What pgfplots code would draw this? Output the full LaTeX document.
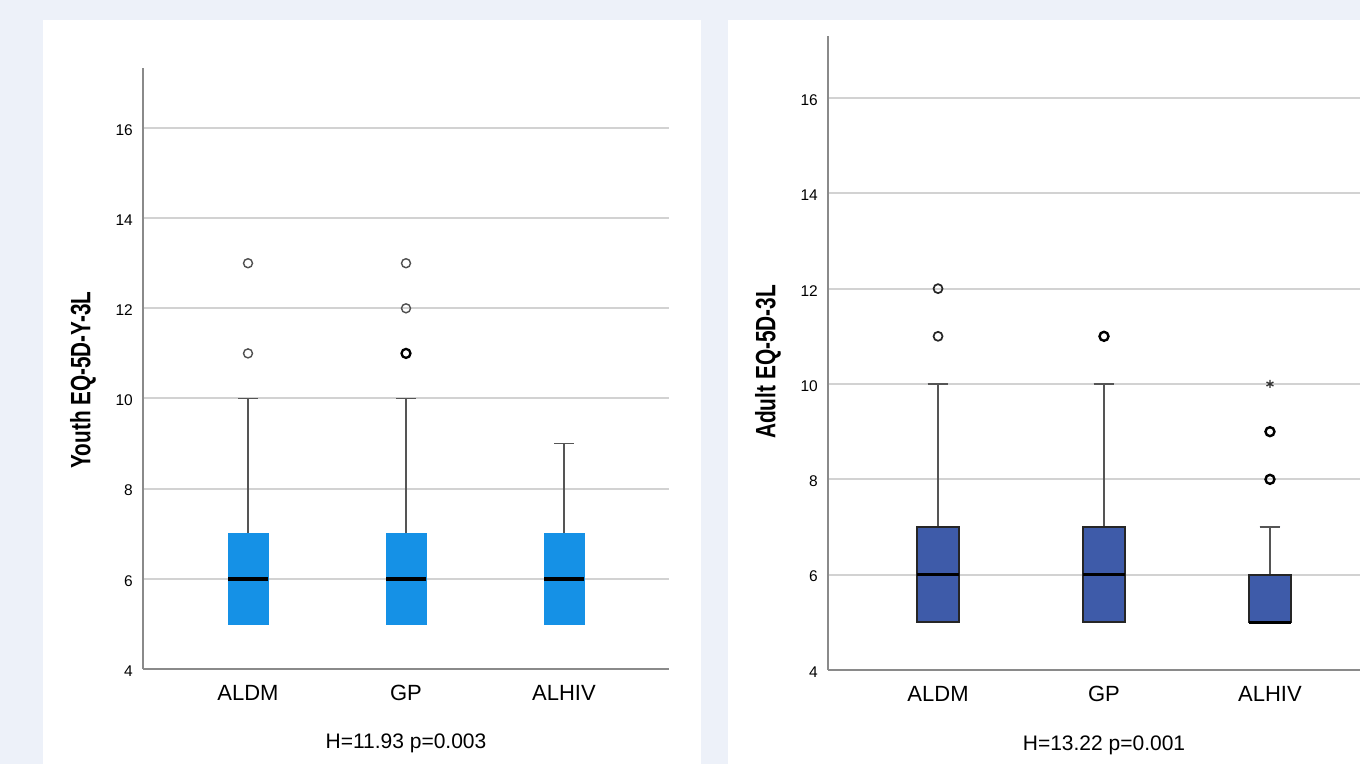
\documentclass[border=0pt]{standalone}
\usepackage{pgfplots}
\pgfplotsset{compat=1.18}
\usepgfplotslibrary{statistics}
\usepackage{fontspec}
\setmainfont{Liberation Sans}

\definecolor{bgc}{HTML}{EDF1F9}
\definecolor{boxA}{HTML}{1591E6}
\definecolor{boxB}{HTML}{3E5BA9}
\definecolor{gridc}{HTML}{D2D2D2}
\definecolor{axc}{HTML}{8A8A8A}
\definecolor{whc}{HTML}{555555}
\definecolor{outc}{HTML}{505050}

\pgfplotsset{
 spss/.style={
  scale only axis,
  axis lines=left,
  axis line style={-, draw=axc, line width=1.6pt},
  ymin=4,
  ytick={4,6,8,10,12,14,16},
  xtick={1,2,3},
  xticklabels={ALDM,GP,ALHIV},
  ymajorgrids,
  major grid style={draw=gridc, line width=2pt},
  major tick length=0pt,
  tick style={draw=none},
  /pgf/number format/assume math mode=true,
  yticklabel style={font=\fontsize{15.5}{18}\selectfont, anchor=east, inner sep=0pt, xshift=-10pt, yshift=-2pt},
  xticklabel style={font=\fontsize{22}{26}\selectfont, anchor=north, inner sep=0pt, yshift=-16pt},
  xlabel style={font=\fontsize{21}{25}\selectfont, at={(axis description cs:0.5,0)}, anchor=base, inner sep=0pt},
  ylabel style={font=\fontsize{28}{32}\selectfont\bfseries, anchor=center},
  boxplot/draw direction=y,
  clip=false,
 },
}

\begin{document}
\begin{tikzpicture}[x=1pt,y=1pt]
\useasboundingbox (0,0) rectangle (1360,764);
\begin{scope}
\clip (0,0) rectangle (1360,764);
\fill[bgc] (0,0) rectangle (1360,764);
\fill[white] (43,0) rectangle (701,744);
\fill[white] (728,0) rectangle (1360,744);

% Left panel: Youth
\begin{axis}[spss,
  at={(143pt,95pt)}, anchor=south west,
  width=526pt, height=601pt,
  ymax=17.33, xmin=0.3354, xmax=3.6646,
  xlabel={H=11.93 p=0.003},
  xlabel style={yshift=-79pt},
  ylabel={\scalebox{0.74}[1]{Youth EQ-5D-Y-3L}},
  ylabel style={at={(axis description cs:-0.114,0.481)}},
  boxplot/every whisker/.style={draw=whc, line width=1.7pt},
  boxplot/every median/.style={draw=black, line width=3.5pt},
  boxplot/every box/.style={draw=boxA, fill=boxA, line width=0.5pt},
]
\addplot[boxplot prepared={lower whisker=5, lower quartile=5, median=6, upper quartile=7, upper whisker=10, draw position=1, box extend=0.25, whisker extend=0.125}, draw=boxA, fill=boxA] coordinates {};
\addplot[boxplot prepared={lower whisker=5, lower quartile=5, median=6, upper quartile=7, upper whisker=10, draw position=2, box extend=0.25, whisker extend=0.125}, draw=boxA, fill=boxA] coordinates {};
\addplot[boxplot prepared={lower whisker=5, lower quartile=5, median=6, upper quartile=7, upper whisker=9, draw position=3, box extend=0.25, whisker extend=0.125}, draw=boxA, fill=boxA] coordinates {};
\addplot[only marks, mark=o, mark size=4.5pt, mark options={draw=outc, line width=1.4pt}] coordinates {(1,11) (1,13) (2,12) (2,13)};
\addplot[only marks, mark=o, mark size=4.5pt, mark options={draw=black, line width=2.3pt}] coordinates {(2,11)};
\end{axis}

% Right panel: Adult
\begin{axis}[spss,
  at={(828pt,94pt)}, anchor=south west,
  width=552pt, height=634pt,
  ymax=17.30, xmin=0.337, xmax=3.663,
  xlabel={H=13.22 p=0.001},
  xlabel style={yshift=-80pt},
  ylabel={\scalebox{0.745}[1]{Adult EQ-5D-3L}},
  ylabel style={at={(axis description cs:-0.1087,0.486)}},
  boxplot/every whisker/.style={draw=whc, line width=1.7pt},
  boxplot/every median/.style={draw=black, line width=3.5pt},
  boxplot/every box/.style={draw=black!85, fill=boxB, line width=1.8pt},
]
\addplot[boxplot prepared={lower whisker=5, lower quartile=5, median=6, upper quartile=7, upper whisker=10, draw position=1, box extend=0.25, whisker extend=0.125}, draw=black, fill=boxB] coordinates {};
\addplot[boxplot prepared={lower whisker=5, lower quartile=5, median=6, upper quartile=7, upper whisker=10, draw position=2, box extend=0.25, whisker extend=0.125}, draw=black, fill=boxB] coordinates {};
\addplot[boxplot prepared={lower whisker=5, lower quartile=5, median=5, upper quartile=6, upper whisker=7, draw position=3, box extend=0.25, whisker extend=0.125}, draw=black, fill=boxB] coordinates {};
\addplot[only marks, mark=o, mark size=4.5pt, mark options={draw=black!85, line width=1.7pt}] coordinates {(1,11) (1,12)};
\addplot[only marks, mark=o, mark size=4.5pt, mark options={draw=black, line width=2.4pt}] coordinates {(2,11) (3,8) (3,9)};
\addplot[only marks, mark=asterisk, mark size=4pt, mark options={draw=black!80, line width=1.3pt}] coordinates {(3,10)};
\end{axis}
\end{scope}
\end{tikzpicture}
\end{document}
